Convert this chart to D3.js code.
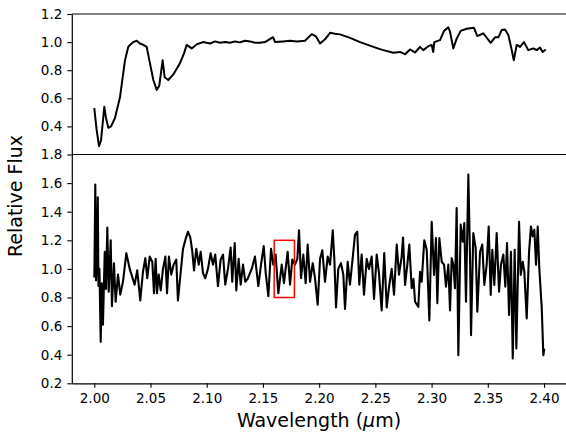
<!DOCTYPE html>
<html>
<head>
<meta charset="utf-8">
<script src="https://cdn.jsdelivr.net/npm/d3@7"></script>
<style>
  html, body { margin: 0; padding: 0; background: #fff; }
  svg { display: block; font-family: "DejaVu Sans", sans-serif; }
</style>
</head>
<body>
<div id="chart"></div>
<script>
// smoothed template spectrum (upper panel)
const topWave = [2.0000, 2.0020, 2.0042, 2.0060, 2.0089, 2.0104, 2.0125, 2.0149, 2.0184, 2.0229,
  2.0273, 2.0302, 2.0318, 2.0347, 2.0377, 2.0406, 2.0436, 2.0466, 2.0495, 2.0525,
  2.0555, 2.0578, 2.0608, 2.0626, 2.0658, 2.0703, 2.0762, 2.0798, 2.0822, 2.0866,
  2.0913, 2.0967, 2.1029, 2.1074, 2.1118, 2.1163, 2.1207, 2.1252, 2.1296, 2.1340,
  2.1385, 2.1429, 2.1474, 2.1518, 2.1590, 2.1608, 2.1679, 2.1741, 2.1803, 2.1874,
  2.1934, 2.1972, 2.2008, 2.2052, 2.2097, 2.2141, 2.2186, 2.2275, 2.2364, 2.2482,
  2.2541, 2.2571, 2.2660, 2.2719, 2.2764, 2.2808, 2.2853, 2.2897, 2.2926, 2.2971,
  2.3001, 2.3015, 2.3024, 2.3075, 2.3111, 2.3149, 2.3164, 2.3193, 2.3224, 2.3259,
  2.3312, 2.3377, 2.3407, 2.3460, 2.3526, 2.3564, 2.3594, 2.3624, 2.3653, 2.3683,
  2.3713, 2.3731, 2.3757, 2.3787, 2.3822, 2.3860, 2.3905, 2.3935, 2.3964, 2.3988, 2.4015];
const topFlux = [0.53, 0.38, 0.26, 0.30, 0.54, 0.46, 0.39, 0.40, 0.46, 0.61,
  0.87, 0.965, 0.98, 1.00, 1.01, 0.99, 0.98, 0.966, 0.85, 0.73,
  0.66, 0.69, 0.87, 0.75, 0.73, 0.77, 0.85, 0.92, 0.98, 0.955,
  0.985, 1.00, 0.99, 1.005, 0.995, 1.00, 0.995, 1.005, 0.998, 1.01,
  1.005, 0.995, 0.995, 1.00, 1.035, 1.00, 1.005, 1.01, 1.005, 1.01,
  1.057, 1.04, 0.99, 1.02, 1.066, 1.06, 1.055, 1.03, 1.00, 0.966,
  0.95, 0.943, 0.924, 0.93, 0.914, 0.948, 0.926, 0.966, 0.943, 0.971,
  0.98, 0.93, 1.00, 1.014, 1.08, 1.105, 1.074, 0.955, 1.026, 1.08,
  1.095, 1.102, 1.043, 1.062, 0.995, 1.034, 1.034, 1.086, 1.09, 1.05,
  0.943, 0.871, 0.98, 0.966, 1.00, 0.943, 0.955, 0.943, 0.962, 0.93, 0.948];

// observed spectrum (lower panel)
const obsWave = [2.0000, 2.0002, 2.0009, 2.0015, 2.0024, 2.0031, 2.0037, 2.0046, 2.0057, 2.0067,
  2.0077, 2.0093, 2.0104, 2.0116, 2.0128, 2.0146, 2.0157, 2.0175, 2.0190, 2.0211,
  2.0231, 2.0255, 2.0285, 2.0315, 2.0335, 2.0359, 2.0382, 2.0409, 2.0433, 2.0454,
  2.0471, 2.0493, 2.0516, 2.0531, 2.0546, 2.0558, 2.0573, 2.0591, 2.0611, 2.0632,
  2.0647, 2.0664, 2.0685, 2.0706, 2.0729, 2.0744, 2.0769, 2.0789, 2.0813, 2.0833,
  2.0854, 2.0872, 2.0887, 2.0907, 2.0929, 2.0946, 2.0967, 2.0987, 2.1011, 2.1035,
  2.1056, 2.1076, 2.1100, 2.1124, 2.1145, 2.1165, 2.1189, 2.1213, 2.1227, 2.1249,
  2.1263, 2.1284, 2.1302, 2.1323, 2.1343, 2.1364, 2.1400, 2.1429, 2.1459, 2.1483,
  2.1507, 2.1525, 2.1548, 2.1572, 2.1592, 2.1613, 2.1637, 2.1667, 2.1687, 2.1720,
  2.1741, 2.1761, 2.1785, 2.1806, 2.1821, 2.1839, 2.1859, 2.1880, 2.1898, 2.1919,
  2.1943, 2.1963, 2.1987, 2.2008, 2.2028, 2.2052, 2.2076, 2.2097, 2.2121, 2.2135,
  2.2150, 2.2170, 2.2194, 2.2215, 2.2230, 2.2254, 2.2274, 2.2295, 2.2319, 2.2339,
  2.2357, 2.2378, 2.2399, 2.2423, 2.2443, 2.2467, 2.2488, 2.2512, 2.2532, 2.2556,
  2.2579, 2.2601, 2.2621, 2.2645, 2.2666, 2.2690, 2.2710, 2.2734, 2.2746, 2.2764,
  2.2784, 2.2802, 2.2823, 2.2839, 2.2853, 2.2882, 2.2897, 2.2912, 2.2935, 2.2957,
  2.2980, 2.3001, 2.3022, 2.3039, 2.3051, 2.3069, 2.3090, 2.3111, 2.3128, 2.3149,
  2.3164, 2.3179, 2.3193, 2.3208, 2.3223, 2.3238, 2.3259, 2.3277, 2.3291, 2.3306,
  2.3327, 2.3342, 2.3351, 2.3371, 2.3392, 2.3407, 2.3431, 2.3451, 2.3469, 2.3490,
  2.3508, 2.3526, 2.3540, 2.3558, 2.3579, 2.3600, 2.3617, 2.3638, 2.3656, 2.3671,
  2.3689, 2.3706, 2.3722, 2.3739, 2.3754, 2.3778, 2.3793, 2.3811, 2.3825, 2.3846,
  2.3867, 2.3884, 2.3899, 2.3914, 2.3929, 2.3944, 2.3958, 2.3980, 2.3994, 2.4003];
const obsFlux = [0.94, 1.04, 1.59, 0.92, 1.10, 1.50, 0.88, 1.00, 0.49, 0.90,
  0.61, 1.12, 0.86, 1.29, 0.84, 1.20, 0.74, 1.04, 0.77, 0.96,
  0.82, 0.91, 1.11, 1.00, 0.95, 0.89, 0.99, 0.78, 0.98, 1.075,
  0.935, 1.086, 1.05, 0.83, 1.07, 0.83, 0.96, 0.85, 1.00, 1.086,
  0.83, 1.086, 0.96, 1.03, 1.065, 0.78, 0.98, 1.14, 1.21, 1.26,
  1.22, 1.12, 0.99, 1.14, 1.03, 1.12, 0.97, 0.935, 1.00, 1.11,
  1.03, 1.10, 0.88, 1.065, 1.10, 0.89, 1.00, 1.15, 0.91, 1.18,
  0.85, 1.07, 0.89, 1.03, 0.91, 0.93, 1.00, 1.086, 0.88, 1.03,
  1.16, 0.97, 0.81, 1.14, 1.03, 1.10, 0.83, 1.03, 0.90, 1.12,
  0.89, 1.065, 1.03, 1.07, 1.27, 0.935, 1.10, 0.90, 1.17, 0.91,
  1.04, 0.935, 0.75, 1.07, 1.13, 0.91, 1.086, 1.03, 1.27, 1.07,
  0.73, 1.00, 1.04, 0.96, 0.72, 1.05, 0.89, 1.05, 1.24, 1.26,
  0.89, 1.10, 0.82, 1.07, 1.00, 1.086, 0.79, 1.10, 0.97, 0.71,
  1.11, 0.73, 0.87, 1.00, 0.82, 1.17, 0.96, 1.086, 1.22, 0.888,
  1.028, 1.17, 0.865, 0.93, 0.77, 0.735, 0.98, 0.91, 1.20, 1.133,
  0.64, 1.33, 0.958, 1.215, 0.76, 1.215, 1.05, 1.03, 0.876, 1.03,
  0.71, 1.075, 1.03, 0.865, 1.426, 0.396, 1.31, 1.19, 1.32, 0.77,
  1.66, 1.075, 0.537, 1.25, 1.145, 0.70, 1.12, 1.17, 0.888, 1.03,
  1.297, 0.817, 1.133, 0.888, 1.25, 0.84, 1.03, 1.10, 0.876, 1.18,
  0.677, 1.12, 0.373, 1.133, 0.443, 1.33, 0.958, 1.05, 0.981, 0.654,
  1.12, 1.297, 1.227, 1.274, 1.03, 1.297, 1.005, 0.724, 0.396, 0.443];

// highlighted window
const boxWave = [2.16, 2.178];
const boxFlux = [0.80, 1.20];

const topTicks = [0.4, 0.6, 0.8, 1.0, 1.2];
const bottomTicks = [0.2, 0.4, 0.6, 0.8, 1.0, 1.2, 1.4, 1.6, 1.8];
const xTicks = [2.00, 2.05, 2.10, 2.15, 2.20, 2.25, 2.30, 2.35, 2.40];

const width = 566, height = 433;
const left = 71.8, right = 566.5;
const topPanel = { top: 14, bottom: 154.5 };
const botPanel = { top: 154.5, bottom: 383.3 };

const svg = d3.select("#chart").append("svg")
  .attr("width", width)
  .attr("height", height);

const x = d3.scaleLinear().domain([1.98, 2.42]).range([left, right]);
const yTop = d3.scaleLinear().domain([0.2, 1.2]).range([topPanel.bottom, topPanel.top]);
const yBot = d3.scaleLinear().domain([0.2, 1.8]).range([botPanel.bottom, botPanel.top]);

function styleAxis(g) {
  g.select(".domain").attr("stroke", "#000").attr("stroke-width", 1.2);
  g.selectAll(".tick line").attr("stroke", "#000").attr("stroke-width", 1.1);
  g.selectAll(".tick text").attr("fill", "#000").style("font-size", "13.5px")
    .style("font-family", "'DejaVu Sans', sans-serif");
}

// axes
svg.append("g")
  .attr("transform", `translate(${left},0)`)
  .call(d3.axisLeft(yTop).tickValues(topTicks).tickFormat(d3.format(".1f"))
    .tickSize(4.5).tickSizeOuter(0).tickPadding(5))
  .call(styleAxis);

svg.append("g")
  .attr("transform", `translate(${left},0)`)
  .call(d3.axisLeft(yBot).tickValues(bottomTicks).tickFormat(d3.format(".1f"))
    .tickSize(4.5).tickSizeOuter(0).tickPadding(5))
  .call(styleAxis);

svg.append("g")
  .attr("transform", `translate(0,${botPanel.bottom})`)
  .call(d3.axisBottom(x).tickValues(xTicks).tickFormat(d3.format(".2f"))
    .tickSize(4.5).tickSizeOuter(0).tickPadding(6))
  .call(styleAxis);

// upper spines
[topPanel.top, botPanel.top].forEach(yy => {
  svg.append("line")
    .attr("x1", left).attr("x2", right)
    .attr("y1", yy).attr("y2", yy)
    .attr("stroke", "#000").attr("stroke-width", 1.2);
});

const topLine = d3.line()
  .x((d, i) => x(topWave[i]))
  .y(d => yTop(d));

svg.append("path")
  .datum(topFlux)
  .attr("fill", "none")
  .attr("stroke", "#000")
  .attr("stroke-width", 2)
  .attr("stroke-linejoin", "round")
  .attr("d", topLine);

const botLine = d3.line()
  .x((d, i) => x(obsWave[i]))
  .y(d => yBot(d));

svg.append("path")
  .datum(obsFlux)
  .attr("fill", "none")
  .attr("stroke", "#000")
  .attr("stroke-width", 2.1)
  .attr("stroke-linejoin", "round")
  .attr("d", botLine);

svg.append("rect")
  .attr("x", x(boxWave[0]))
  .attr("y", yBot(boxFlux[1]))
  .attr("width", x(boxWave[1]) - x(boxWave[0]))
  .attr("height", yBot(boxFlux[0]) - yBot(boxFlux[1]))
  .attr("fill", "none")
  .attr("stroke", "#ff0000")
  .attr("stroke-width", 1.5);

// labels
svg.append("text")
  .attr("x", 319)
  .attr("y", 427)
  .attr("text-anchor", "middle")
  .style("font-size", "19px")
  .html("Wavelength (<tspan font-style='italic'>μ</tspan>m)");

svg.append("text")
  .attr("transform", "translate(22,196) rotate(-90)")
  .attr("text-anchor", "middle")
  .style("font-size", "19px")
  .text("Relative Flux");
</script>
</body>
</html>
